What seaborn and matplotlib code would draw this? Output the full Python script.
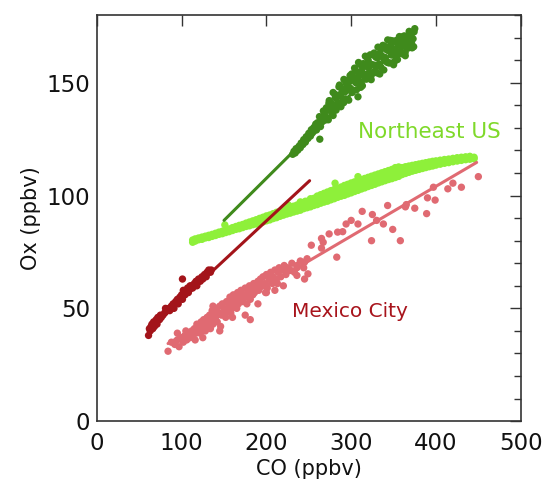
import matplotlib
matplotlib.use("Agg")
import matplotlib.pyplot as plt
from matplotlib.ticker import MultipleLocator
import seaborn as sns
import pandas as pd

# ---------------- data ----------------
# Northeast US, upper (dark green) cloud
ne_hi_co = [231, 232.5, 234, 235, 237, 238.5, 240, 241, 243, 244, 246, 247, 249, 250, 252, 253, 254, 256, 255.5,
            263, 308,
            257.0, 258.2, 259.1, 260.3, 261.4, 262.6, 263.8, 264.9, 266.1, 267.2, 268.4, 269.5, 270.7, 271.8, 273.0,
            274.1, 275.3, 276.4, 277.6, 278.7, 279.9, 281.0, 282.2, 283.3, 284.5, 285.6, 286.8, 287.9, 289.1, 290.2,
            291.4, 292.5, 293.7, 294.8, 296.0, 297.1, 298.3, 299.4, 300.6, 301.7, 302.9, 304.0, 305.2, 306.3, 307.5,
            308.6, 309.8, 310.9, 312.1, 313.2, 314.4, 315.5, 316.7, 317.8, 319.0, 320.1, 321.3, 322.4, 323.6, 324.7,
            325.9, 327.0, 328.2, 329.3, 330.5, 331.6, 332.8, 333.9, 335.1, 336.2, 337.4, 338.5, 339.7, 340.8, 342.0,
            343.1, 344.3, 345.4, 346.6, 347.7, 348.9, 350.0, 351.2, 352.3, 353.5, 354.6, 355.8, 356.9, 358.1, 359.2,
            360.4, 361.5, 362.7, 363.8, 365.0, 366.1, 367.3, 368.4, 369.6, 370.7, 371.9, 373.0, 374.2, 375.0,
            271.2, 273.7, 276.2, 278.7, 281.2, 283.7, 286.2, 288.7, 291.2, 293.7, 296.2, 298.7, 301.2, 303.7, 306.2,
            308.7, 311.2, 313.7, 316.2, 318.7, 321.2, 323.7, 326.2, 328.7, 331.2, 333.7, 336.2, 338.7, 341.2, 343.7,
            346.2, 348.7, 351.2, 353.7, 356.2, 358.7, 361.2, 363.7, 366.2, 368.7, 371.2, 373.7]
ne_hi_ox = [118.3, 119.6, 118.9, 120.8, 120.1, 121.9, 121.2, 123.3, 122.6, 124.8, 123.7, 126.1, 125.3, 127.6, 126.4, 129.2, 127.7, 130.2, 128.4,
            125.0, 143.8,
            129.6, 131.7, 129.1, 132.3, 131.0, 135.0, 130.6, 134.4, 132.8, 137.5, 135.3, 133.5, 138.9, 137.8, 133.6,
            142.1, 137.7, 141.0, 137.2, 145.7, 140.2, 144.9, 137.9, 143.8, 141.0, 148.2, 144.2, 139.4, 147.5, 142.6,
            151.5, 145.9, 142.8, 151.0, 148.5, 142.3, 150.6, 147.5, 153.9, 146.5, 151.8, 156.5, 150.2, 146.9, 154.8,
            152.7, 158.2, 150.4, 155.2, 148.7, 158.5, 153.9, 161.8, 151.6, 157.1, 159.9, 154.6, 162.4, 151.4, 158.1,
            154.6, 163.2, 157.8, 161.3, 154.4, 165.8, 158.3, 163.1, 156.9, 161.8, 166.6, 155.7, 161.3, 166.0, 159.2,
            169.0, 164.1, 158.8, 166.4, 162.3, 168.6, 158.0, 164.8, 162.2, 168.8, 160.3, 166.9, 170.5, 163.9, 168.1,
            162.8, 166.3, 170.8, 162.0, 168.1, 170.3, 165.4, 172.8, 167.4, 170.7, 165.5, 169.5, 172.6, 174.0,
            134.6, 140.9, 139.0, 135.5, 143.4, 140.6, 149.0, 145.5, 141.2, 150.0, 146.8, 153.2, 145.7, 152.1, 150.0,
            159.0, 148.0, 157.1, 152.3, 161.3, 157.1, 153.3, 162.3, 157.2, 161.1, 153.9, 165.5, 160.4, 164.8, 158.9,
            168.8, 163.8, 159.5, 167.7, 163.0, 166.9, 170.5, 163.5, 167.8, 170.8, 167.5, 166.0]

# Northeast US, lower (light green) band
ne_lo_co = [113, 113, 116, 116, 120, 120, 124, 124, 128, 128, 132, 132, 136, 136, 140, 140, 144, 144, 148, 148,
            151, 152, 152, 156, 156, 160, 160, 164, 164, 168, 168, 172, 172, 176, 176, 180, 180, 184, 184, 188,
            188, 192, 192, 196, 196, 200, 200, 204, 204, 208, 208, 212, 212, 216, 216, 220, 220, 224, 224, 228,
            228, 232, 232, 236, 236, 240, 240, 240, 244, 244, 248, 248, 252, 252, 252, 256, 256, 260, 260, 260,
            264, 264, 264, 268, 268, 268, 272, 272, 272, 276, 276, 276, 280, 280, 280, 281, 284, 284, 284, 288,
            288, 288, 292, 292, 292, 292, 296, 296, 296, 296, 300, 300, 300, 300, 304, 304, 304, 304, 308, 308,
            308, 312, 312, 312, 312, 316, 316, 316, 316, 320, 320, 320, 320, 324, 324, 324, 324, 328, 328, 328,
            328, 332, 332, 332, 332, 336, 336, 336, 336, 340, 340, 340, 340, 344, 344, 344, 344, 348, 348, 348,
            348, 352, 352, 352, 352, 356, 356, 356, 356, 360, 360, 360, 364, 364, 364, 368, 368, 368, 372, 372,
            372, 376, 376, 376, 380, 380, 380, 384, 384, 384, 388, 388, 388, 392, 392, 392, 396, 396, 396, 400,
            400, 400, 405, 405, 405, 410, 410, 410, 415, 415, 415, 420, 420, 420, 425, 425, 425, 430, 430, 430,
            435, 435, 435, 440, 440, 440, 445, 445,
            226, 246, 262, 270, 278, 286, 294, 302, 310, 318, 326, 334, 342, 350, 358, 366, 374, 382, 390, 398]
ne_lo_ox = [79.3, 80.3, 79.8, 80.8, 80.4, 81.2, 80.6, 81.6, 81.2, 82.0, 81.4, 82.4, 81.9, 82.8, 82.3, 83.3, 82.8, 83.8, 83.1, 84.2,
            87.0, 83.6, 84.7, 84.0, 85.2, 84.5, 85.8, 85.0, 86.3, 85.3, 86.8, 85.8, 87.2, 86.3, 87.8, 86.6, 88.3, 87.1, 88.8, 87.4,
            89.3, 87.9, 89.9, 88.3, 90.4, 88.8, 91.0, 89.2, 91.4, 89.8, 92.0, 90.2, 92.6, 90.8, 93.0, 91.3, 93.6, 91.8, 94.2, 92.2,
            94.6, 92.7, 95.3, 93.1, 95.8, 93.5, 95.5, 97.2, 94.2, 96.8, 94.6, 97.4, 95.0, 97.0, 98.6, 95.6, 98.8, 96.0, 98.0, 99.8,
            96.6, 98.6, 100.4, 97.1, 99.2, 101.0, 97.5, 99.7, 101.6, 98.1, 100.2, 102.2, 98.6, 100.8, 102.7, 105.5, 99.2, 101.3, 103.2, 99.7,
            101.8, 103.8, 100.1, 101.7, 103.2, 104.5, 100.7, 102.2, 103.8, 105.0, 101.2, 102.8, 104.3, 105.6, 101.8, 103.3, 104.8, 106.1, 102.3, 104.6,
            108.4, 102.9, 104.4, 105.9, 107.1, 103.4, 104.9, 106.4, 107.6, 104.0, 105.5, 107.0, 108.1, 104.5, 106.0, 107.5, 108.6, 105.0, 106.5, 108.0,
            109.1, 105.6, 107.1, 108.5, 109.6, 106.1, 107.6, 109.0, 110.1, 106.6, 108.1, 109.5, 110.6, 107.1, 108.6, 110.0, 111.1, 107.5, 109.1, 110.5,
            111.6, 108.0, 109.6, 111.0, 112.4, 108.5, 110.1, 111.5, 112.7, 109.3, 110.9, 112.4, 109.8, 111.4, 112.8, 110.3, 111.8, 113.1, 110.8, 112.2,
            113.4, 111.2, 112.6, 113.7, 111.6, 113.0, 114.0, 112.0, 113.3, 114.3, 112.4, 113.6, 114.6, 112.8, 113.9, 114.9, 113.1, 114.2, 115.2, 113.5,
            114.5, 115.4, 113.9, 114.8, 115.7, 114.3, 115.1, 116.0, 114.6, 115.4, 116.2, 115.0, 115.7, 116.5, 115.3, 116.0, 116.8, 115.6, 116.3, 117.0,
            115.9, 116.6, 117.2, 116.1, 116.8, 117.4, 116.3, 117.0,
            95.8, 97.5, 99.0, 100.3, 101.5, 102.6, 104.5, 105.4, 106.0, 107.0, 107.8, 108.6, 109.4, 110.2, 111.0, 111.6, 112.3, 112.9, 113.6, 114.2]

# Mexico City, dark red cloud
mc_hi_co = [61, 62, 63, 64, 65, 66, 67, 68, 70, 71, 72, 74, 75, 76, 78, 80, 81, 83, 85, 86,
            88, 90, 91, 93, 95, 96, 98, 100, 101, 102, 101, 104, 105, 107, 108, 110, 112, 113, 115, 117,
            118, 120, 122, 124, 125, 127, 129, 130, 132, 134, 135]
mc_hi_ox = [38, 41, 40, 42, 43, 41, 44, 42, 45, 43, 46, 45, 47, 46, 47, 48, 50, 49, 50, 49,
            51, 52, 50, 53, 54, 52, 55, 56, 54, 58, 63, 56, 58, 59, 57, 60, 60, 59, 61, 62,
            60, 63, 62, 64, 63, 65, 64, 66, 67, 66, 67]

# Mexico City, pink cloud
mc_lo_co = [84, 88, 92, 95, 97, 100, 102, 104, 106, 108, 110, 112, 113, 115, 117, 118, 120, 121, 123, 124,
            126, 127, 128, 130, 131, 132, 133, 135, 136, 137, 138, 140, 141, 142, 144, 145, 147, 148, 150, 151,
            153, 154, 156, 157, 158, 160, 161, 163, 164, 166, 167, 169, 170, 172, 173, 175, 176, 178, 180, 181,
            183, 185, 186, 188, 190, 191, 193, 195, 196, 198, 200, 201, 203, 205, 206, 208, 210, 212, 214, 215,
            217, 219, 221, 223, 225, 228, 230, 233, 236, 240, 244, 248, 181, 137, 175, 160, 190, 125, 145, 200,
            210, 220, 105, 95, 116, 122, 129, 134, 139, 146, 152, 159, 165, 171, 177, 184, 192, 199, 207, 213,
            228, 236, 236, 245, 245, 249, 253, 265, 265, 267, 274, 283, 284, 290, 294, 300, 308, 313, 324, 325,
            330, 338, 343, 349, 358, 364, 365, 375, 389, 390, 399, 397, 414, 420, 430, 450]
mc_lo_ox = [31, 35, 34, 36, 33, 37, 35, 38, 36, 39, 37, 40, 38, 41, 39, 43, 40, 42, 44, 41,
            45, 43, 40, 46, 44, 42, 47, 45, 49, 43, 48, 46, 50, 44, 48, 51, 47, 52, 50, 47,
            53, 49, 51, 55, 48, 53, 56, 51, 54, 57, 52, 55, 58, 53, 56, 59, 55, 57, 60, 54,
            58, 61, 57, 59, 62, 58, 63, 60, 64, 61, 65, 59, 63, 66, 62, 64, 67, 63, 66, 68,
            64, 67, 69, 65, 68, 67, 70, 66, 69, 71, 68, 72, 45, 51, 47, 46, 52, 37, 40, 57,
            58, 60, 40, 39, 36, 39, 42, 41, 45, 42, 46, 50, 50, 56, 52, 56, 60, 57, 61, 61,
            66.8, 68, 64.6, 70.5, 63, 65.3, 78, 81, 76.7, 79.3, 83, 72.7, 83.8, 84, 87.4, 89, 87.4, 93, 80, 91.6,
            89, 87.4, 95.6, 85, 80, 95, 96, 94.4, 92, 99, 98, 103.7, 103, 105.5, 103.7, 108.4]

# fitted lines (end points)
fit_ne_hi_co, fit_ne_hi_ox = [150, 375], [89, 173]
fit_mc_hi_co, fit_mc_hi_ox = [62, 251], [40.5, 106.6]
fit_mc_lo_co, fit_mc_lo_ox = [84, 448], [34.4, 114.7]

x_ticks = [0, 100, 200, 300, 400, 500]
y_ticks = [0, 50, 100, 150]

# ---------------- style ----------------
c_dkgreen = "#3f8a1c"
c_ltgreen = "#8ef03a"
c_dkred = "#a3141a"
c_pink = "#e06a72"

sns.set_style("white")
plt.rcParams["font.family"] = ["DejaVu Sans"]

fig = plt.figure(figsize=(5.47, 4.88), dpi=100)
ax = fig.add_axes([0.177, 0.137, 0.775, 0.832])

series = [
    (ne_lo_co, ne_lo_ox, c_ltgreen),
    (ne_hi_co, ne_hi_ox, c_dkgreen),
    (mc_lo_co, mc_lo_ox, c_pink),
    (mc_hi_co, mc_hi_ox, c_dkred),
]
for xs, ys, col in series:
    df = pd.DataFrame({"CO": xs, "Ox": ys})
    sns.scatterplot(data=df, x="CO", y="Ox", ax=ax, color=col, s=28,
                    edgecolor="none", linewidth=0)

fits = [
    (fit_ne_hi_co, fit_ne_hi_ox, c_dkgreen),
    (fit_mc_lo_co, fit_mc_lo_ox, c_pink),
    (fit_mc_hi_co, fit_mc_hi_ox, c_dkred),
]
for xs, ys, col in fits:
    df = pd.DataFrame({"CO": xs, "Ox": ys})
    sns.lineplot(data=df, x="CO", y="Ox", ax=ax, color=col, linewidth=2.2)

ax.text(308, 128, "Northeast US", color="#7fd92a", fontsize=15.5, va="center", ha="left")
ax.text(230, 48.5, "Mexico City", color="#a8141c", fontsize=14.5, va="center", ha="left")

ax.set_xlim(0, 500)
ax.set_ylim(0, 180)
ax.set_xticks(x_ticks)
ax.set_yticks(y_ticks)
ax.yaxis.set_minor_locator(MultipleLocator(10))
ax.tick_params(which="both", direction="in", top=True, right=True, colors="#333333",
               labelcolor="#111111", labelsize=16.5)
ax.tick_params(which="major", length=8, width=1.0)
ax.tick_params(which="minor", length=5, width=1.0)
ax.tick_params(axis="x", which="major", pad=8)
ax.tick_params(axis="y", which="major", pad=5)
for sp in ax.spines.values():
    sp.set_color("#333333")
    sp.set_linewidth(1.2)

ax.set_xlabel("CO (ppbv)", fontsize=15, color="#111111", labelpad=3)
ax.set_ylabel("Ox (ppbv)", fontsize=15, color="#111111", labelpad=4)

fig.savefig("out.png", dpi=100)
